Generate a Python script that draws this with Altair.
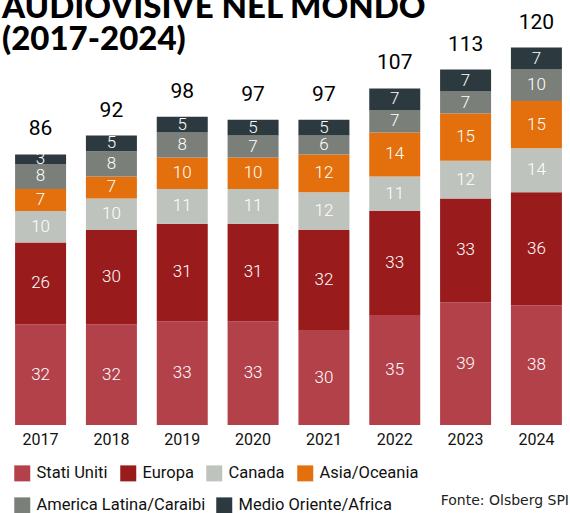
import altair as alt
import pandas as pd

anni = ["2017", "2018", "2019", "2020", "2021", "2022", "2023", "2024"]
regioni = ["Stati Uniti", "Europa", "Canada", "Asia/Oceania",
           "America Latina/Caraibi", "Medio Oriente/Africa"]
stati_uniti = [32, 32, 33, 33, 30, 35, 39, 38]
europa = [26, 30, 31, 31, 32, 33, 33, 36]
canada = [10, 10, 11, 11, 12, 11, 12, 14]
asia_oceania = [7, 7, 10, 10, 12, 14, 15, 15]
america_latina = [8, 8, 8, 7, 6, 7, 7, 10]
medio_oriente = [3, 5, 5, 5, 5, 7, 7, 7]
colori = ["#B3414A", "#991B1C", "#BFC3BD", "#E3700D", "#7B7F7A", "#2C3A3F"]
fonte = ["Fonte: Olsberg SPI"]

serie = [stati_uniti, europa, canada, asia_oceania, america_latina, medio_oriente]
rows = []
for i, (reg, vals) in enumerate(zip(regioni, serie)):
    for anno, v in zip(anni, vals):
        rows.append({"anno": anno, "regione": reg, "ordine": i, "valore": v})
df = pd.DataFrame(rows)

NARROW = "Roboto, sans-serif"

xenc = alt.X("anno:N", sort=anni,
             scale=alt.Scale(paddingInner=0.28, paddingOuter=0.1),
             axis=alt.Axis(title=None, labelAngle=0, domain=False, ticks=False,
                           labelFont=NARROW, labelFontSize=16, labelColor="#111111",
                           labelPadding=6))
yscale = alt.Scale(domain=[0, 135.1], nice=False, zero=True)

base = alt.Chart(df).transform_stack(
    stack="valore", as_=["y0", "y1"], groupby=["anno"],
    sort=[alt.SortField("ordine", order="ascending")]
).transform_calculate(ymid="(datum.y0 + datum.y1) / 2")


def legend(x, y, pad):
    return alt.Legend(title=None, orient="none", legendX=x, legendY=y,
                      direction="horizontal", columns=4,
                      columnPadding=pad, symbolType="square", symbolSize=256,
                      symbolStrokeWidth=0, symbolOpacity=1,
                      labelFont=NARROW, labelFontSize=16.5,
                      labelColor="#111111", labelOffset=6, labelLimit=300)


bars1 = base.transform_filter(
    alt.FieldOneOfPredicate(field="regione", oneOf=regioni[:4])
).mark_bar().encode(
    x=xenc,
    y=alt.Y("y0:Q", scale=yscale, axis=None),
    y2="y1:Q",
    color=alt.Color("regione:N", sort=regioni[:4],
                    scale=alt.Scale(domain=regioni[:4], range=colori[:4]),
                    legend=legend(6, 465, 12)),
)

bars2 = base.transform_filter(
    alt.FieldOneOfPredicate(field="regione", oneOf=regioni[4:])
).transform_calculate(regione2="datum.regione").mark_bar().encode(
    x=alt.X("anno:N", sort=anni),
    y=alt.Y("y0:Q", scale=yscale),
    y2="y1:Q",
    color=alt.Color("regione2:N", sort=regioni[4:],
                    scale=alt.Scale(domain=regioni[4:], range=colori[4:]),
                    legend=legend(6, 497, 10)),
)

seg_labels = base.mark_text(color="white", fontSize=17, font=NARROW, fontWeight=300,
                            baseline="middle").encode(
    x=alt.X("anno:N", sort=anni),
    y=alt.Y("ymid:Q", scale=yscale),
    text="valore:Q",
)

totals = alt.Chart(df).transform_aggregate(
    totale="sum(valore)", groupby=["anno"]
).mark_text(color="black", fontSize=21, font=NARROW, baseline="bottom", dy=-15).encode(
    x=alt.X("anno:N", sort=anni),
    y=alt.Y("totale:Q", scale=yscale),
    text="totale:Q",
)

source = alt.Chart(pd.DataFrame({"t": fonte})).mark_text(
    align="right", baseline="alphabetic", font="DejaVu Sans", fontSize=14,
    color="#222222"
).encode(x=alt.value(561), y=alt.value(505), text="t:N")

chart = alt.layer(bars1, bars2, seg_labels, totals, source).resolve_scale(
    color="independent"
).properties(
    width=561, height=425,
    padding={"left": 8, "top": 0, "right": 1, "bottom": 88},
    autosize=alt.AutoSizeParams(type="none"),
    title=alt.TitleParams(text=["AUDIOVISIVE NEL MONDO", "(2017-2024)"],
                          anchor="start", frame="group", font="Lato",
                          fontWeight=900, fontSize=33, lineHeight=32,
                          color="black", offset=-90, dx=-6, baseline="bottom"),
).configure_view(stroke=None)

chart.save("out.html", embed_options={"renderer": "svg", "actions": False})
